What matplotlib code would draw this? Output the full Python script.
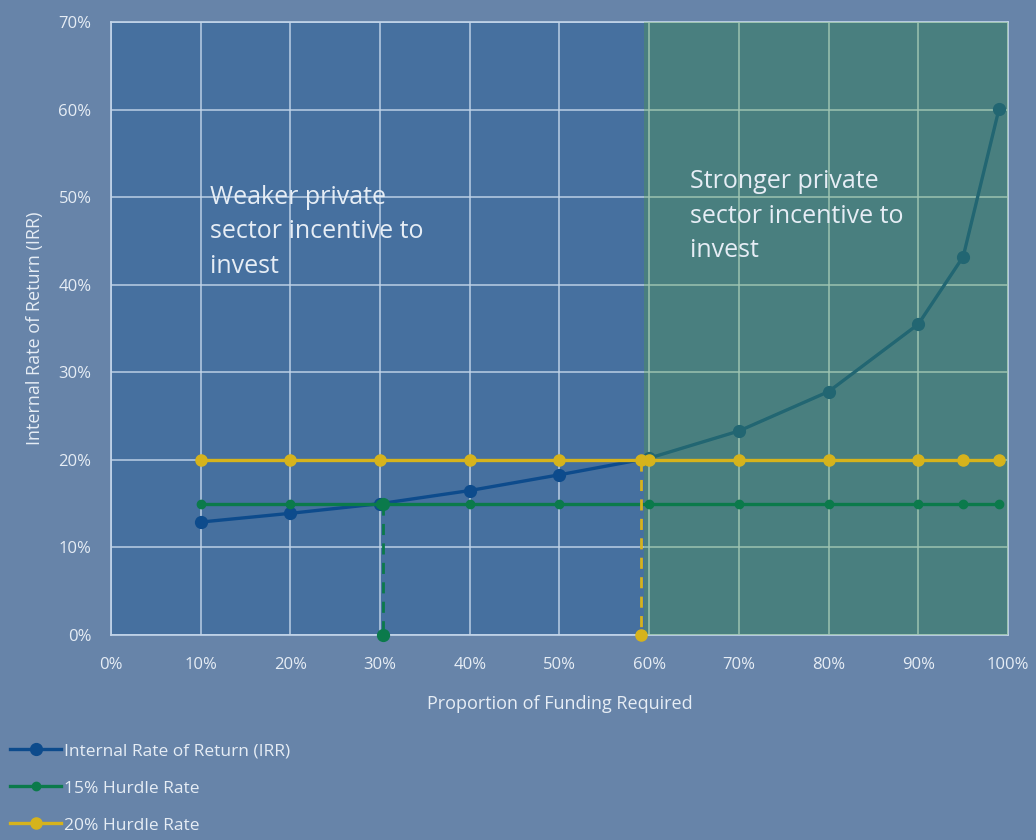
import numpy as np
import matplotlib.pyplot as plt
from matplotlib.ticker import FuncFormatter

# funding share (%) and the resulting IRR (%)
funding = [10, 20, 30, 40, 50, 60, 70, 80, 90, 95, 99]
irr = [12.9, 13.9, 15.0, 16.5, 18.3, 20.2, 23.3, 27.8, 35.5, 43.2, 60.1]
hurdle_15 = [15] * len(funding)
hurdle_20 = [20] * len(funding)

# where the IRR curve meets each hurdle rate
cross_15 = 30.3
cross_20 = 59.1

bg = '#6784a9'
panel = '#46709f'
txt = '#e6edf5'
c_irr = '#0d4b8c'
c_15 = '#0b7a4b'
c_20 = '#d6b31c'

plt.rcParams['font.family'] = ['Open Sans', 'DejaVu Sans']

fig = plt.figure(figsize=(10.36, 8.4), dpi=100, facecolor=bg)
ax = fig.add_axes([0.1071, 0.244, 0.8659, 0.7298], facecolor=panel)

ax.plot(funding, irr, color=c_irr, lw=2.4, marker='o', ms=8.5, label='Internal Rate of Return (IRR)', zorder=2.5)
ax.plot(funding, hurdle_15, color=c_15, lw=2.4, marker='o', ms=6, label='15% Hurdle Rate', zorder=3)
ax.plot(funding, hurdle_20, color=c_20, lw=2.4, marker='o', ms=8, label='20% Hurdle Rate', zorder=3)

# drop lines from the crossing points to the x axis
ax.plot([cross_15, cross_15], [15, 0], color=c_15, lw=2, ls=(0, (4, 3)), marker='o', ms=8.5, zorder=3, clip_on=False)
ax.plot([cross_20, cross_20], [20, 0], color=c_20, lw=2, ls=(0, (4, 3)), marker='o', ms=8, zorder=3, clip_on=False)

# shaded region where IRR beats the 20% hurdle
ax.axvspan(cross_20 + 0.3, 100, color='#53a538', alpha=0.3, lw=0, zorder=2.8)

ax.set_xlim(0, 100)
ax.set_ylim(0, 70)
ax.set_xticks(np.arange(0, 101, 10))
ax.set_yticks(np.arange(0, 71, 10))
pct = FuncFormatter(lambda v, p: f'{v:.0f}%')
ax.xaxis.set_major_formatter(pct)
ax.yaxis.set_major_formatter(pct)
ax.grid(True, color='#c4d6ea', lw=1.2, alpha=0.85, zorder=1)
ax.set_axisbelow(True)
ax.tick_params(length=0, colors=txt, labelsize=12)
ax.tick_params(axis='x', pad=16)
ax.tick_params(axis='y', pad=14)
for s in ax.spines.values():
    s.set_color('#c4d6ea')
    s.set_linewidth(1.2)

ax.set_xlabel('Proportion of Funding Required', color=txt, fontsize=13, labelpad=16)
ax.set_ylabel('Internal Rate of Return (IRR)', color=txt, fontsize=13, labelpad=10)

ax.text(11, 51.4, 'Weaker private\nsector incentive to\ninvest', color=txt, fontsize=18,
        va='top', ha='left', linespacing=1.5, zorder=6)
ax.text(64.5, 53.2, 'Stronger private\nsector incentive to\ninvest', color=txt, fontsize=18,
        va='top', ha='left', linespacing=1.5, zorder=6)

leg = fig.legend(loc='upper left', bbox_to_anchor=(0.01, 0.115), frameon=False,
                 fontsize=12.5, labelcolor=txt, handlelength=2.9, handletextpad=0.2,
                 labelspacing=1.2, borderaxespad=0, borderpad=0)

fig.savefig('out.png', dpi=100, facecolor=bg)
